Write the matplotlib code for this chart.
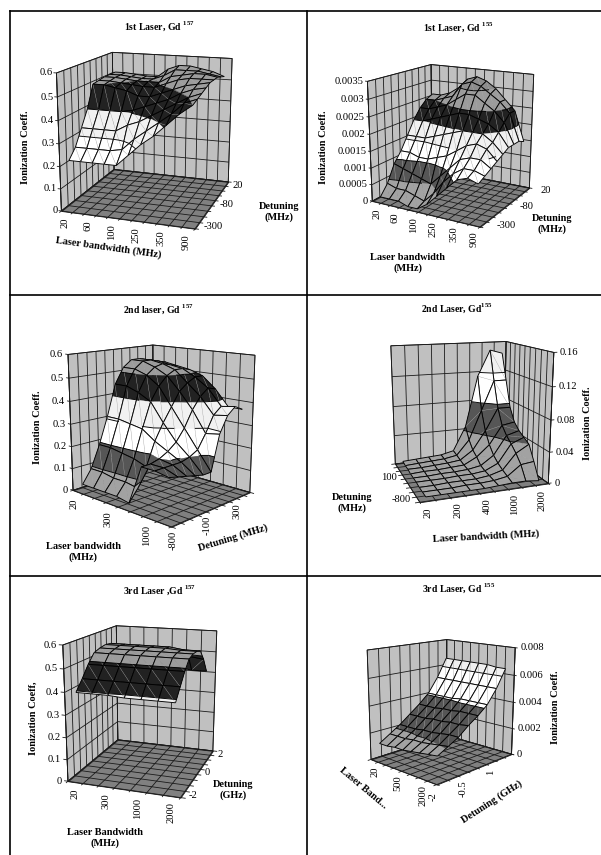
import numpy as np
import matplotlib
matplotlib.use('Agg')
import matplotlib.pyplot as plt
from matplotlib.lines import Line2D
from mpl_toolkits.mplot3d import proj3d
from mpl_toolkits.mplot3d.art3d import Poly3DCollection, Line3DCollection

plt.rcParams['font.family'] = ['Liberation Serif', 'DejaVu Serif']
plt.rcParams['mathtext.fontset'] = 'custom'
plt.rcParams['mathtext.bf'] = 'Liberation Serif:bold'

W, H = 601, 855

# bandwidth / detuning categories, '' = category without a printed label
bw_1 = ['20', '', '60', '', '100', '', '250', '', '350', '', '900']
det_1 = ['-300', '', '', '', '-80', '', '', '', '20']
bw_2_157 = ['20', '', '', '300', '', '', '1000', '']
det_2_157 = ['-800', '', '', '', '-100', '', '', '', '300', '']
bw_2_155 = ['20', '', '200', '', '400', '', '1000', '', '2000']
det_2_155 = ['-800', '', '', '', '', '100', '', '', '']
bw_3_157 = ['20', '', '300', '', '1000', '', '2000']
det_3_157 = ['-2', '', '', '', '0', '', '', '', '2']
bw_3_155 = ['20', '', '', '500', '', '', '2000', '']
det_3_155 = ['-2', '', '', '-0.5', '', '', '1', '']

# ionization coefficient, one row per detuning (front row first)
z_1_157 = [[.22, .22, .22, .22, .22, .27, .32, .36, .41, .46, .50],
           [.26, .26, .26, .26, .27, .32, .36, .40, .44, .49, .51],
           [.33, .33, .33, .33, .36, .38, .41, .44, .47, .50, .52],
           [.40, .40, .40, .40, .41, .43, .45, .47, .50, .52, .53],
           [.50, .50, .49, .48, .46, .46, .48, .50, .52, .53, .54],
           [.505, .505, .50, .495, .49, .49, .51, .53, .54, .54, .54],
           [.51, .51, .505, .50, .50, .50, .53, .54, .55, .55, .54],
           [.51, .51, .505, .50, .50, .52, .55, .55, .55, .54, .53],
           [.51, .51, .505, .50, .50, .54, .56, .56, .55, .54, .52]]

z_1_155 = [[.0001, .0001, .0001, 0, 0, .0002, .0005, .0008, .0011, .0012, .0011],
           [.0004, .0003, .0003, .0002, .0001, .0004, .0008, .0011, .0013, .0013, .0012],
           [.0009, .0008, .0007, .0006, .0005, .0008, .0011, .0014, .0015, .0015, .0013],
           [.0012, .0012, .0011, .0011, .0012, .0013, .0015, .0017, .0018, .0017, .0014],
           [.0016, .0016, .0016, .0017, .0018, .0019, .0020, .0020, .0020, .0018, .0015],
           [.0020, .0020, .0021, .0022, .0023, .0024, .0024, .0023, .0022, .0020, .0016],
           [.0023, .0023, .0024, .0025, .0027, .0029, .0029, .0027, .0025, .0022, .0016],
           [.0025, .0025, .0026, .0027, .0031, .0032, .0031, .0029, .0027, .0024, .0016],
           [.0026, .0026, .0027, .0029, .0032, .0033, .0032, .0030, .0027, .0024, .0015]]

z_2_157 = [[.03, .03, .03, .03, .02, .19, .19, .18],
           [.09, .09, .08, .08, .07, .19, .19, .17],
           [.19, .19, .18, .17, .15, .20, .19, .16],
           [.31, .31, .30, .29, .25, .22, .19, .15],
           [.45, .45, .43, .40, .32, .25, .20, .14],
           [.52, .52, .50, .46, .38, .30, .22, .14],
           [.55, .55, .53, .50, .44, .37, .28, .29],
           [.55, .55, .54, .52, .47, .42, .35, .36],
           [.54, .54, .53, .52, .49, .45, .38, .39],
           [.53, .53, .52, .51, .49, .44, .37, .37]]

z_2_155 = [[.002, .002, .002, .002, .002, .003, .004, .004, .002],
           [.002, .002, .002, .003, .003, .004, .007, .020, .022],
           [.002, .002, .003, .003, .003, .005, .010, .030, .040],
           [.003, .003, .003, .004, .004, .006, .014, .038, .045],
           [.003, .003, .004, .004, .005, .008, .020, .045, .050],
           [.003, .004, .004, .005, .006, .015, .030, .055, .058],
           [.004, .004, .005, .006, .008, .020, .045, .075, .075],
           [.004, .005, .006, .007, .010, .030, .070, .110, .110],
           [.005, .006, .007, .008, .012, .045, .115, .150, .145]]

z_3_157 = [[.395, .395, .395, .39, .39, .39, .39],
           [.44, .44, .44, .44, .44, .44, .44],
           [.49, .49, .49, .49, .49, .49, .49],
           [.53, .53, .53, .53, .53, .53, .53],
           [.54, .54, .54, .54, .54, .54, .54],
           [.545, .545, .545, .545, .545, .54, .54],
           [.54, .54, .54, .54, .54, .53, .53],
           [.50, .50, .50, .50, .50, .49, .48],
           [.43, .43, .43, .43, .42, .41, .41]]

z_3_155 = [[.0012, .0012, .0013, .0013, .0014, .0015, .0016, .0017],
           [.0017, .0017, .0017, .0018, .0018, .0019, .0020, .0021],
           [.0022, .0022, .0022, .0023, .0023, .0024, .0025, .0025],
           [.0028, .0028, .0028, .0029, .0029, .0030, .0030, .0031],
           [.0034, .0034, .0034, .0035, .0035, .0036, .0036, .0036],
           [.0041, .0041, .0041, .0041, .0042, .0042, .0042, .0042],
           [.0052, .0052, .0052, .0052, .0052, .0052, .0052, .0052],
           [.0066, .0066, .0066, .0066, .0066, .0066, .0065, .0065]]

# value axes
ticks_06 = [0, .1, .2, .3, .4, .5, .6]
labels_06 = ['0', '0.1', '0.2', '0.3', '0.4', '0.5', '0.6']
ticks_0035 = [0, .0005, .001, .0015, .002, .0025, .003, .0035]
labels_0035 = ['0', '0.0005', '0.001', '0.0015', '0.002', '0.0025', '0.003', '0.0035']
ticks_016 = [0, .04, .08, .12, .16]
labels_016 = ['0', '0.04', '0.08', '0.12', '0.16']
ticks_0008 = [0, .002, .004, .006, .008]
labels_0008 = ['0', '0.002', '0.004', '0.006', '0.008']

band_colors = ['#a2a2a2', '#565656', '#ffffff', '#f1f1f1', '#222222', '#9c9c9c', '#8c8c8c']
WALL = '#c0c0c0'
FLOOR = '#808080'
GRID = '#1a1a1a'
TICK_FS = 7.6

fig = plt.figure(figsize=(W / 100, H / 100), dpi=100, facecolor='white')


def clip(poly, level, keep_above):
    # Sutherland-Hodgman against one z level
    out = []
    for a, b in zip(poly, poly[1:] + poly[:1]):
        a_in = a[2] >= level if keep_above else a[2] <= level
        b_in = b[2] >= level if keep_above else b[2] <= level
        if a_in:
            out.append(a)
        if a_in != b_in:
            t = (level - a[2]) / (b[2] - a[2])
            out.append(tuple(a[k] + t * (b[k] - a[k]) for k in range(3)))
    return out


def level_segment(tri, level):
    pts = []
    for a, b in zip(tri, tri[1:] + tri[:1]):
        if (a[2] - level) * (b[2] - level) < 0:
            t = (level - a[2]) / (b[2] - a[2])
            pts.append(tuple(a[k] + t * (b[k] - a[k]) for k in range(3)))
    return [pts[:2]] if len(pts) >= 2 else []


def draw_cell(ax, corners, zticks, order):
    a, b, c, d = corners
    tris = [[a, b, d], [b, c, d]]
    polys, cols, segs = [], [], []
    for tri in tris:
        for k in range(len(zticks) - 1):
            p = clip(tri, zticks[k], True)
            if len(p) >= 3:
                p = clip(p, zticks[k + 1], False)
            if len(p) >= 3:
                polys.append(p)
                cols.append(band_colors[k])
        for lev in zticks[1:-1]:
            segs += level_segment(tri, lev)
    ax.add_collection3d(Poly3DCollection(polys, facecolors=cols, edgecolors=cols,
                                         linewidths=0.2, zorder=order))
    diag = [[d, b]]
    outline = [[a, b], [b, c], [c, d], [d, a]]
    ax.add_collection3d(Line3DCollection(diag + outline + segs,
                                         colors=['#a8a8a8'] + ['black'] * (4 + len(segs)),
                                         linewidths=[0.25] + [0.65] * (4 + len(segs)),
                                         zorder=order + 1))


def tick_text(ax, x, y, z, s, off, **kw):
    # project the data point, then shift the label by a few pixels
    X, Y, _ = proj3d.proj_transform(x, y, z, ax.get_proj())
    ax.annotate(s, (X, Y), xytext=off, textcoords='offset pixels', fontsize=TICK_FS,
                annotation_clip=False, zorder=10000, **kw)


def draw_panel(left, top, size, elev, azim, aspect, focal, z, xcats, ycats, zticks, zlabels,
               zcorner, xoff, yoff, zoff, ylabel_mode):
    ax = fig.add_axes([left / W, 1 - (top + size) / H, size / W, size / H],
                      projection='3d', computed_zorder=False)
    z = np.array(z, float)
    ny, nx = z.shape
    x0, x1 = -0.5, nx - 0.5
    y0, y1 = -0.5, ny - 0.5
    zmax = zticks[-1]
    ax.set_xticks([])
    ax.set_yticks([])
    ax.set_zticks([])
    ax.set_xlim(x0, x1)
    ax.set_ylim(y0, y1)
    ax.set_zlim(0, zmax)
    ax.set_box_aspect(aspect)
    ax.view_init(elev, azim)
    ax.set_proj_type('persp', focal_length=focal)
    ax.set_axis_off()

    # walls and floor
    from_right = azim > -90
    xw = x0 if from_right else x1
    xs = x1 if from_right else x0
    walls = [[(x0, y1, 0), (x1, y1, 0), (x1, y1, zmax), (x0, y1, zmax)],
             [(xw, y0, 0), (xw, y1, 0), (xw, y1, zmax), (xw, y0, zmax)]]
    ax.add_collection3d(Poly3DCollection(walls, facecolors=WALL, edgecolors=GRID,
                                         linewidths=0.6, zorder=1))
    floor = [[(x0, y0, 0), (x1, y0, 0), (x1, y1, 0), (x0, y1, 0)]]
    ax.add_collection3d(Poly3DCollection(floor, facecolors=FLOOR, edgecolors=GRID,
                                         linewidths=0.6, zorder=2))
    lines = []
    xb = np.arange(nx + 1) - 0.5
    yb = np.arange(ny + 1) - 0.5
    for b in xb:
        lines.append([(b, y0, 0), (b, y1, 0)])
        lines.append([(b, y1, 0), (b, y1, zmax)])
    for b in yb:
        lines.append([(x0, b, 0), (x1, b, 0)])
        lines.append([(xw, b, 0), (xw, b, zmax)])
    for t in zticks:
        lines.append([(x0, y1, t), (x1, y1, t)])
        lines.append([(xw, y0, t), (xw, y1, t)])
    # tick marks on the front edges and on the value axis
    for b in xb:
        lines.append([(b, y0, 0), (b, y0 - 0.3, 0)])
    side = 0.3 if from_right else -0.3
    for b in yb:
        lines.append([(xs, b, 0), (xs + side, b, 0)])
    zx = x0 if zcorner[0] == 0 else x1
    zy = y0 if zcorner[1] == 0 else y1
    lines.append([(zx, zy, 0), (zx, zy, zmax)])
    zdir = np.sign(zoff[0])
    for t in zticks:
        lines.append([(zx, zy, t), (zx + zdir * 0.25, zy, t)])
    ax.add_collection3d(Line3DCollection(lines, colors=GRID, linewidths=0.6, zorder=3))

    # surface cells, back to front
    order = 10
    xorder = range(nx - 1) if from_right else range(nx - 2, -1, -1)
    for j in range(ny - 2, -1, -1):
        for i in xorder:
            corners = [(i, j, z[j, i]), (i + 1, j, z[j, i + 1]),
                       (i + 1, j + 1, z[j + 1, i + 1]), (i, j + 1, z[j + 1, i])]
            draw_cell(ax, corners, zticks, order)
            order += 2

    # tick labels
    for i, s in enumerate(xcats):
        if s:
            tick_text(ax, i, y0, 0, s, xoff, rotation=90, ha='center', va='top')
    for j, s in enumerate(ycats):
        if not s:
            continue
        if ylabel_mode == 'below':
            tick_text(ax, xs, j, 0, s, yoff, rotation=90, ha='center', va='top')
        else:
            tick_text(ax, xs, j, 0, s, yoff, ha='left' if from_right else 'right', va='center')
    for t, s in zip(zticks, zlabels):
        tick_text(ax, zx, zy, t, s, zoff, ha='right' if zoff[0] < 0 else 'left', va='center')
    return ax


def title(x, y, s):
    fig.text(x / W, 1 - y / H, s, ha='center', va='center', fontsize=7, fontweight='bold')


def label(x, y, s, rotation=0):
    fig.text(x / W, 1 - y / H, s, ha='center', va='center', fontsize=7.4, fontweight='bold',
             rotation=rotation, rotation_mode='anchor', linespacing=1.25)


draw_panel(33.3, 21.8, 226.7, 15.0, -71.0, (.98, 1.00, .99), .559, z_1_157, bw_1, det_1,
           ticks_06, labels_06, (0, 0), (-2, -6), (6, -1), (-4, 0), 'side')
draw_panel(350.8, 40.8, 199.2, 16.3, -59.9, (1.12, 1.04, 1.12), .553, z_1_155, bw_1, det_1,
           ticks_0035, labels_0035, (0, 0), (0, -6), (13, -1), (-4, 0), 'side')
draw_panel(46.5, 316.5, 223.0, 13.7, -46.9, (1.19, 1.04, 1.22), .491, z_2_157, bw_2_157, det_2_157,
           ticks_06, labels_06, (0, 0), (-4, -6), (-3, -6), (-5, 0), 'below')
draw_panel(362.9, 313.7, 204.1, 14.0, -109.9, (1.11, .91, 1.10), .444, z_2_155, bw_2_155, det_2_155,
           ticks_016, labels_016, (1, 0), (0, -6), (-7, 0), (6, 0), 'side')
draw_panel(37.5, 601.1, 209.8, 15.6, -70.7, (.90, 1.03, 1.06), .522, z_3_157, bw_3_157, det_3_157,
           ticks_06, labels_06, (0, 0), (-1, -6), (6, -1), (-6, 0), 'side')
draw_panel(351.2, 617.9, 177.4, 14.2, -46.2, (.92, 1.10, 1.10), .544, z_3_155, bw_3_155, det_3_155,
           ticks_0008, labels_0008, (1, 1), (0, -6), (-9, -10), (5, 0), 'below')

title(159, 26, r'1st Laser, Gd $^{\mathbf{157}}$')
title(458, 27, r'1st Laser, Gd $^{\mathbf{155}}$')
title(158, 309, r'2nd laser, Gd $^{\mathbf{157}}$')
title(457, 308, r'2nd Laser, Gd$^{\mathbf{155}}$')
title(160, 590, r'3rd Laser ,Gd $^{\mathbf{157}}$')
title(459, 588, r'3rd Laser, Gd $^{\mathbf{155}}$')

label(26, 147, 'Ionization Coeff.', 90)
label(279, 212, 'Detuning\n(MHz)')
label(108, 248, 'Laser bandwidth (MHz)', -8)
label(324, 147, 'Ionization Coeff.', 90)
label(552, 224, 'Detuning\n(MHz)')
label(408, 263, 'Laser bandwidth\n(MHz)')
label(38, 427, 'Ionization Coeff.', 90)
label(83, 552, 'Laser bandwidth\n(MHz)')
label(233, 538, 'Detuning (MHz)', 17)
label(587, 423, 'Ionization Coeff.', 90)
label(352, 503, 'Detuning\n(MHz)')
label(486, 536, 'Laser bandwidth (MHz)', 3)
label(33, 718, 'Ionization Coeff,', 90)
label(105, 838, 'Laser Bandwidth\n(MHz)')
label(233, 790, 'Detuning\n(GHz)')
label(555, 707, 'Ionization Coeff.', 90)
label(363, 788, 'Laser Band...', -40)
label(492, 802, 'Detuning (GHz)', 33)

# table rules around the six charts
for xa, ya, xb_, yb_ in [(10, 11, 601, 11), (10, 295, 601, 295), (10, 576, 601, 576),
                         (10, 11, 10, 855), (307, 11, 307, 855)]:
    fig.add_artist(Line2D([xa / W, xb_ / W], [1 - ya / H, 1 - yb_ / H], color='black', lw=1.2))

fig.savefig('out.png', dpi=100)
